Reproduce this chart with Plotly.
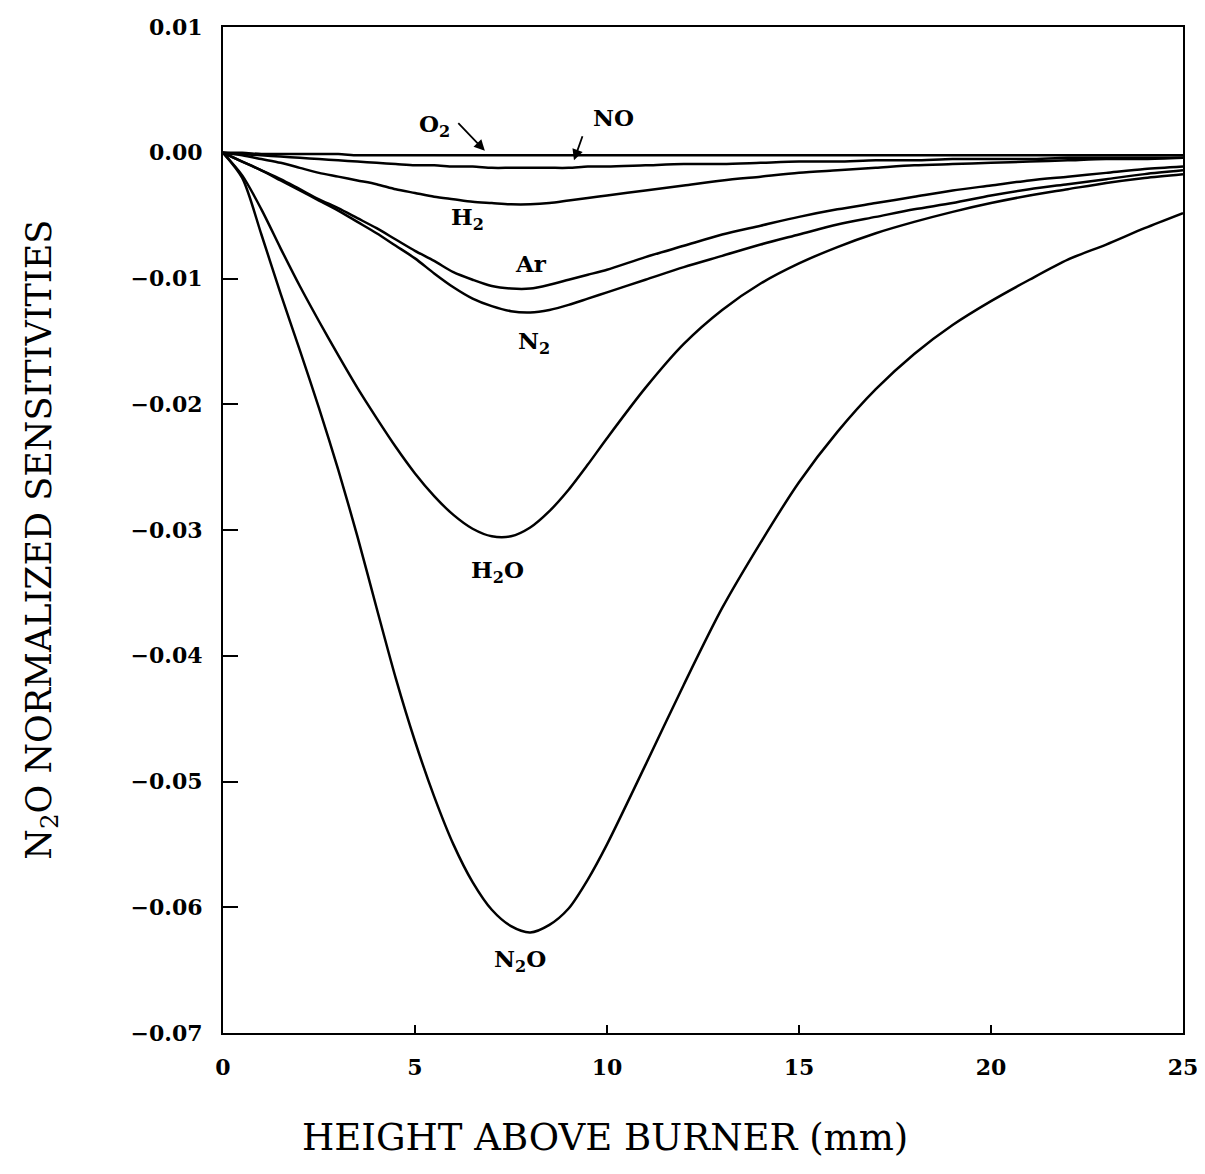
import plotly.graph_objects as go

# Height above burner (mm)
height_mm = [0, 0.5, 1, 1.5, 2, 2.5, 3, 3.5, 4, 4.5, 5, 5.5, 6, 6.5, 7, 7.5, 8, 8.5, 9, 9.5,
             10, 11, 12, 13, 14, 15, 16, 17, 18, 19, 20, 21, 22, 23, 24, 25]

sens_N2O = [0, -0.002, -0.0065, -0.0112, -0.0157, -0.0203, -0.0252, -0.0305, -0.0362, -0.0418,
            -0.0468, -0.0512, -0.055, -0.058, -0.0602, -0.0615, -0.062, -0.0614, -0.0601, -0.0578,
            -0.055, -0.0487, -0.0423, -0.0362, -0.031, -0.0262, -0.0222, -0.0188, -0.016, -0.0137,
            -0.0118, -0.0101, -0.0085, -0.0073, -0.006, -0.0048]

sens_H2O = [0, -0.0018, -0.0045, -0.0076, -0.0106, -0.0134, -0.0161, -0.0187, -0.0211, -0.0234,
            -0.0255, -0.0273, -0.0288, -0.0299, -0.0305, -0.0305, -0.0298, -0.0285, -0.0268, -0.0248,
            -0.0227, -0.0187, -0.0152, -0.0125, -0.0104, -0.0088, -0.0075, -0.0064, -0.0055, -0.0047,
            -0.004, -0.0034, -0.0029, -0.0024, -0.002, -0.0017]

sens_N2 = [0, -0.0007, -0.0014, -0.0022, -0.003, -0.0038, -0.0046, -0.0055, -0.0064, -0.0074,
           -0.0084, -0.0096, -0.0107, -0.0116, -0.0122, -0.0126, -0.0127, -0.0125, -0.0121, -0.0116,
           -0.0111, -0.0101, -0.0091, -0.0082, -0.0073, -0.0065, -0.0057, -0.0051, -0.0045, -0.0040,
           -0.0034, -0.0029, -0.0025, -0.0021, -0.0017, -0.0014]

sens_Ar = [0, -0.0007, -0.0014, -0.0021, -0.0029, -0.0037, -0.0044, -0.0052, -0.006, -0.0069,
           -0.0078, -0.0086, -0.0095, -0.0101, -0.0106, -0.0108, -0.0108, -0.0105, -0.0101, -0.0097,
           -0.0093, -0.0083, -0.0074, -0.0065, -0.0058, -0.0051, -0.0045, -0.0040, -0.0035, -0.0030,
           -0.0026, -0.0022, -0.0019, -0.0016, -0.0013, -0.0011]

sens_H2 = [0, -0.0002, -0.0005, -0.0008, -0.0012, -0.0016, -0.0019, -0.0022, -0.0025, -0.0029,
           -0.0032, -0.0035, -0.0037, -0.0039, -0.004, -0.0041, -0.0041, -0.004, -0.0038, -0.0036,
           -0.0034, -0.003, -0.0026, -0.0022, -0.0019, -0.0016, -0.0014, -0.0012, -0.001, -0.0009,
           -0.0008, -0.0007, -0.0006, -0.0005, -0.0005, -0.0004]

sens_NO = [0, -0.0001, -0.0002, -0.0003, -0.0004, -0.0005, -0.0006, -0.0007, -0.0008, -0.0009,
           -0.001, -0.001, -0.0011, -0.0011, -0.0012, -0.0012, -0.0012, -0.0012, -0.0012, -0.0011,
           -0.0011, -0.001, -0.0009, -0.0009, -0.0008, -0.0007, -0.0007, -0.0006, -0.0006, -0.0005,
           -0.0005, -0.0005, -0.0004, -0.0004, -0.0004, -0.0004]

sens_O2 = [0, 0, -0.0001, -0.0001, -0.0001, -0.0001, -0.0001, -0.0002, -0.0002, -0.0002,
           -0.0002, -0.0002, -0.0002, -0.0002, -0.0002, -0.0002, -0.0002, -0.0002, -0.0002, -0.0002,
           -0.0002, -0.0002, -0.0002, -0.0002, -0.0002, -0.0002, -0.0002, -0.0002, -0.0002, -0.0002,
           -0.0002, -0.0002, -0.0002, -0.0002, -0.0002, -0.0002]

series = [
    ("O<sub>2</sub>", sens_O2),
    ("NO", sens_NO),
    ("H<sub>2</sub>", sens_H2),
    ("Ar", sens_Ar),
    ("N<sub>2</sub>", sens_N2),
    ("H<sub>2</sub>O", sens_H2O),
    ("N<sub>2</sub>O", sens_N2O),
]

# Curve labels: (text, x, y)
curve_labels = [
    ("O<sub>2</sub>", 5.5, 0.0022),
    ("NO", 10.16, 0.0028),
    ("H<sub>2</sub>", 6.38, -0.0052),
    ("Ar", 8.02, -0.0088),
    ("N<sub>2</sub>", 8.1, -0.0151),
    ("H<sub>2</sub>O", 7.14, -0.0333),
    ("N<sub>2</sub>O", 7.73, -0.0642),
]

# Pointer arrows: (tail x, tail y, head x, head y)
pointer_arrows = [
    (6.09, 0.00247, 6.82, 0.00015),
    (9.375, 0.00143, 9.14, -0.00060),
]

x_ticks = [0, 5, 10, 15, 20, 25]
y_ticks = [0.01, 0.00, -0.01, -0.02, -0.03, -0.04, -0.05, -0.06, -0.07]

FONT = "DejaVu Serif"

fig = go.Figure()
for name, vals in series:
    fig.add_trace(go.Scatter(x=height_mm, y=vals, mode="lines", name=name,
                             line=dict(color="black", width=2.5, shape="spline", smoothing=0.8),
                             showlegend=False, hoverinfo="skip"))

for text, x, y in curve_labels:
    fig.add_annotation(x=x, y=y, xref="x", yref="y", text="<b>" + text + "</b>",
                       showarrow=False, font=dict(family=FONT, size=23, color="black"))

for tx, ty, hx, hy in pointer_arrows:
    fig.add_annotation(x=hx, y=hy, ax=tx, ay=ty, xref="x", yref="y", axref="x", ayref="y",
                       text="", showarrow=True, arrowhead=2, arrowsize=1.2, arrowwidth=1.8,
                       arrowcolor="black")

fig.add_annotation(text="N<sub>2</sub>O NORMALIZED SENSITIVITIES", xref="paper", yref="paper",
                   x=-0.19, y=0.49, xanchor="center", yanchor="middle", textangle=-90,
                   showarrow=False, font=dict(family=FONT, size=35, color="black"))
fig.add_annotation(text="HEIGHT ABOVE BURNER (mm)", xref="paper", yref="paper",
                   x=0.398, y=-0.104, xanchor="center", yanchor="middle", showarrow=False,
                   font=dict(family=FONT, size=37, color="black"))

fig.update_xaxes(range=[0, 25], tickvals=x_ticks, ticktext=[str(v) for v in x_ticks],
                 ticks="inside", ticklen=8, tickwidth=1.5, tickcolor="black",
                 showline=True, linecolor="black", linewidth=2, mirror=True,
                 showgrid=False, zeroline=False, ticklabelstandoff=14,
                 tickfont=dict(family=FONT, size=22, color="black", weight="bold"))
fig.update_yaxes(range=[-0.07, 0.01], tickvals=y_ticks, tickformat=".2f",
                 ticks="inside", ticklen=15, tickwidth=1.5, tickcolor="black",
                 showline=True, linecolor="black", linewidth=2, mirror=True,
                 showgrid=False, zeroline=False, ticklabelstandoff=14,
                 tickfont=dict(family=FONT, size=22, color="black", weight="bold"))

fig.update_layout(width=1197, height=1166, plot_bgcolor="white", paper_bgcolor="white",
                  margin=dict(l=215, r=22, t=19, b=141, autoexpand=False))

fig.write_html("out.html")
